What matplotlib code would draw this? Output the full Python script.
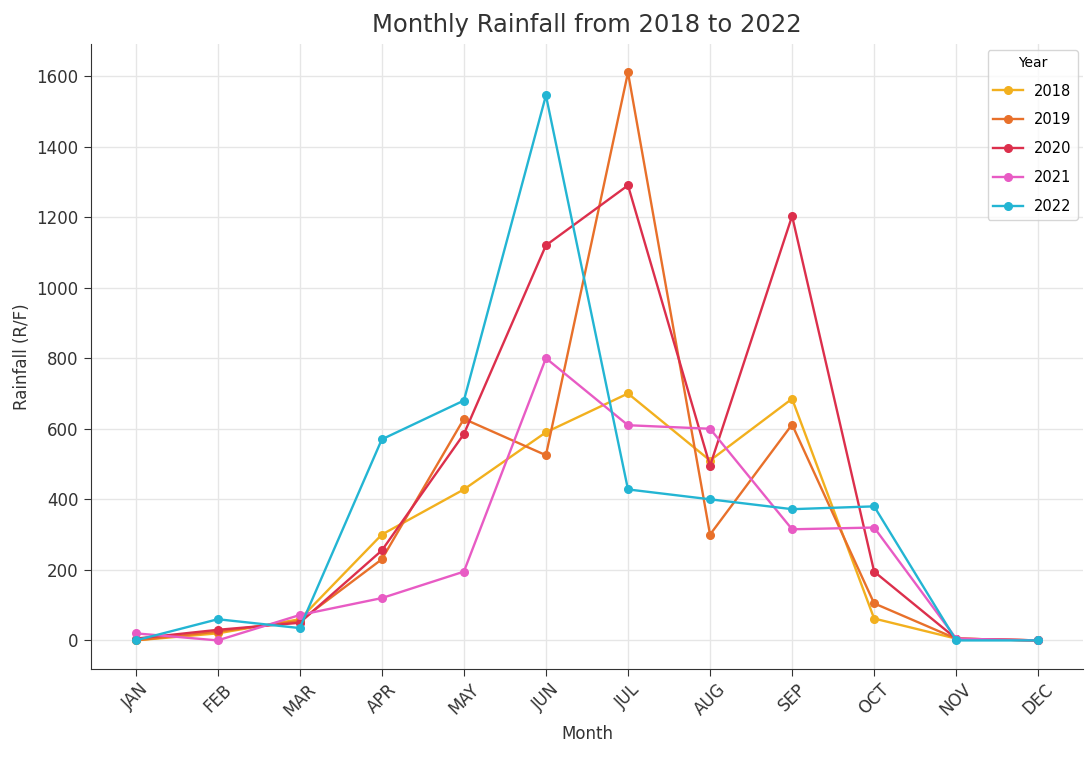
import matplotlib.pyplot as plt
import numpy as np

months = ["JAN", "FEB", "MAR", "APR", "MAY", "JUN", "JUL", "AUG", "SEP", "OCT", "NOV", "DEC"]
years = ["2018", "2019", "2020", "2021", "2022"]

rf_2018 = [0, 20, 60, 300, 428, 590, 700, 510, 685, 62, 5, 0]
rf_2019 = [0, 25, 55, 230, 628, 525, 1610, 300, 612, 105, 5, 0]
rf_2020 = [5, 30, 50, 255, 585, 1120, 1290, 495, 1203, 195, 5, 0]
rf_2021 = [20, 0, 72, 120, 195, 800, 610, 600, 315, 320, 5, 0]
rf_2022 = [0, 60, 35, 570, 680, 1545, 428, 400, 372, 380, 0, 0]

series = [rf_2018, rf_2019, rf_2020, rf_2021, rf_2022]
colors = ["#F2B01E", "#E8702A", "#DC2F4C", "#E85BC4", "#23B5D3"]

fig = plt.figure(figsize=(10.91, 7.6), dpi=100)
ax1 = fig.add_axes([0.083, 0.12, 0.91, 0.822])

x = np.arange(len(months))
for yr, vals, c in zip(years, series, colors):
    ax1.plot(x, vals, marker='o', color=c, lw=1.7, ms=5.5, label=yr)

ax1.set_xticks(x)
ax1.set_xticklabels(months, rotation=45, fontsize=12)
ax1.tick_params(axis='y', labelsize=12)
ax1.tick_params(colors='#333333', length=5)
ax1.grid(True, color='#e6e6e6', lw=1)
ax1.set_axisbelow(True)
for s in ['top', 'right']:
    ax1.spines[s].set_visible(False)
for s in ['left', 'bottom']:
    ax1.spines[s].set_color('#333333')

ax1.set_title("Monthly Rainfall from 2018 to 2022", fontsize=17.5, color='#333333', pad=9)
ax1.set_xlabel('Month', fontsize=12, color='#333333')
ax1.set_ylabel('Rainfall (R/F)', fontsize=12, color='#333333')

leg = ax1.legend(title="Year", loc='upper right', fontsize=10.5, title_fontsize=10,
                 labelspacing=0.95, borderaxespad=0.4)

fig.savefig("out.png", dpi=100)
